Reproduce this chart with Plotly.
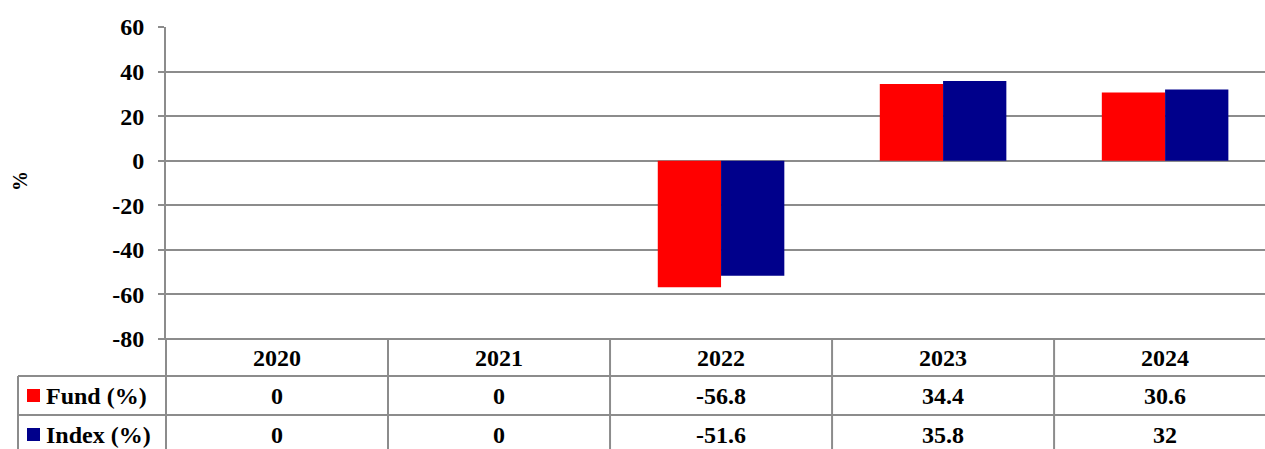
import plotly.graph_objects as go

years = ["2020", "2021", "2022", "2023", "2024"]
fund = [0, 0, -56.8, 34.4, 30.6]
index = [0, 0, -51.6, 35.8, 32]
fund_labels = ["0", "0", "-56.8", "34.4", "30.6"]
index_labels = ["0", "0", "-51.6", "35.8", "32"]
y_ticks = [60, 40, 20, 0, -20, -40, -60, -80]
y_tick_text = ["60", "40", "20", "0", "-20", "-40", "-60", "-80"]

W, H = 1265, 449
L, T, B = 166, 27, 339          # plot area edges in pixels
PH = B - T
PW = W - L
FONT = "Liberation Serif"
GRID = "#8c8c8c"
FS = 24

def py(p):   # pixel y -> paper y
    return (B - p) / PH

def px(p):   # pixel x -> paper x
    return (p - L) / PW

fig = go.Figure()
fig.add_trace(go.Bar(name="Fund (%)", x=years, y=fund, marker=dict(color="#FF0000", line=dict(width=0))))
fig.add_trace(go.Bar(name="Index (%)", x=years, y=index, marker=dict(color="#00008B", line=dict(width=0))))

shapes = []
# bottom (-80) gridline / table top
shapes.append(dict(type="line", xref="paper", yref="paper", x0=px(160), x1=1, y0=0, y1=0,
                   line=dict(color=GRID, width=2)))
for yy in (376, 415):
    shapes.append(dict(type="line", xref="paper", yref="paper", x0=px(18), x1=1, y0=py(yy), y1=py(yy),
                       line=dict(color=GRID, width=2)))
for i in range(len(years) - 1):
    shapes.append(dict(type="line", xref="x", yref="paper", x0=i + 0.5, x1=i + 0.5, y0=0, y1=py(460),
                       line=dict(color=GRID, width=2)))
shapes.append(dict(type="line", xref="paper", yref="paper", x0=0, x1=0, y0=0, y1=py(460),
                   line=dict(color=GRID, width=2)))
shapes.append(dict(type="line", xref="paper", yref="paper", x0=px(18), x1=px(18), y0=py(376), y1=py(460),
                   line=dict(color=GRID, width=2)))
for (top, col) in ((389, "#FF0000"), (428, "#00008B")):
    shapes.append(dict(type="rect", xref="paper", yref="paper", x0=px(27), x1=px(40), y0=py(top), y1=py(top + 13),
                       fillcolor=col, line=dict(width=0)))

annotations = []
tf = dict(family=FONT, size=FS, color="black", weight="bold")
for i, yr in enumerate(years):
    for yy, txt in ((358, yr), (396, fund_labels[i]), (435, index_labels[i])):
        annotations.append(dict(x=i, xref="x", y=py(yy), yref="paper", text=txt, showarrow=False, font=tf,
                                xanchor="center", yanchor="middle"))
annotations.append(dict(x=px(44), xref="paper", y=py(396), yref="paper", text="Fund (%)", showarrow=False, font=tf,
                        xanchor="left", yanchor="middle"))
annotations.append(dict(x=px(44), xref="paper", y=py(435), yref="paper", text="Index (%)", showarrow=False, font=tf,
                        xanchor="left", yanchor="middle"))
annotations.append(dict(x=px(20), xref="paper", y=py(181), yref="paper", text="%", showarrow=False, textangle=-90,
                        font=dict(family=FONT, size=20, color="black", weight="bold"), xanchor="center", yanchor="middle"))

fig.update_layout(
    width=W, height=H,
    margin=dict(l=L, r=0, t=T, b=H - B, pad=0),
    paper_bgcolor="white", plot_bgcolor="white",
    barmode="group", bargap=0.43, bargroupgap=0,
    showlegend=False,
    shapes=shapes, annotations=annotations,
    font=dict(family=FONT),
    xaxis=dict(type="category", range=[-0.5, 4.45], showticklabels=False, showgrid=False, zeroline=False,
               showline=False, ticks=""),
    yaxis=dict(range=[-80, 60], tickvals=y_ticks, ticktext=y_tick_text, showgrid=True, gridcolor=GRID, gridwidth=2,
               zeroline=False, showline=True, linecolor=GRID, linewidth=2, ticks="outside", ticklen=6,
               tickcolor=GRID, tickwidth=2, ticklabelstandoff=9,
               tickfont=dict(family=FONT, size=FS, color="black", weight="bold")),
)

fig.write_html("out.html", config={"displayModeBar": False},
               post_script="document.body.style.margin='0';document.body.style.overflow='hidden';")
